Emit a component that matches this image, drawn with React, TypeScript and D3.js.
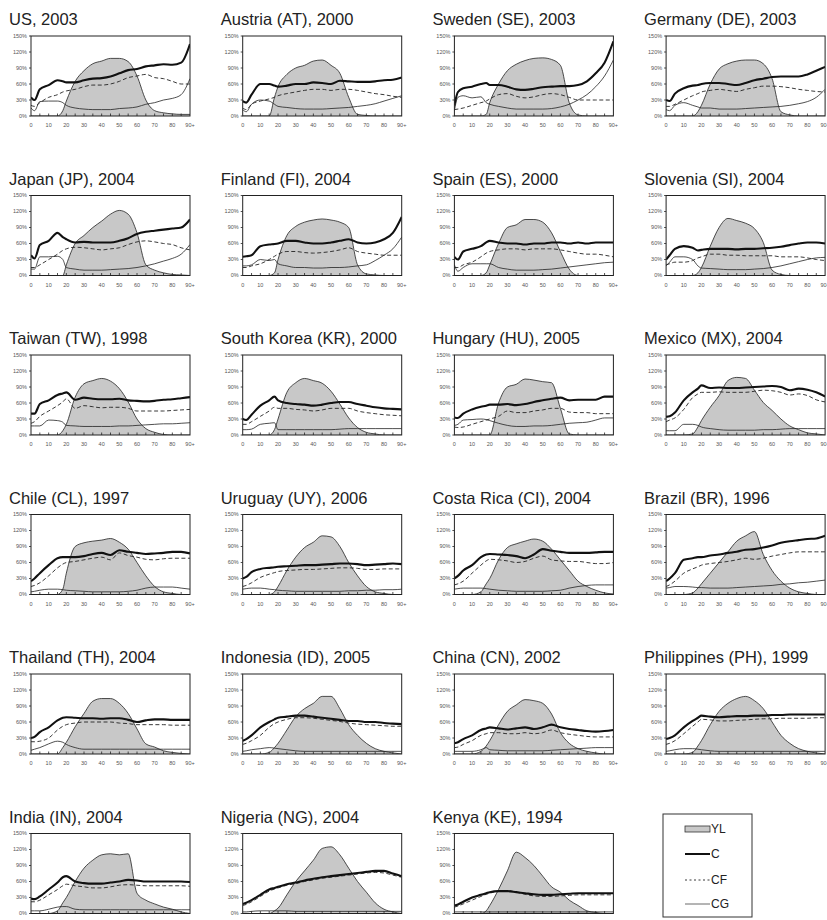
import * as d3 from 'd3'

// ages the values were read at (years)
const ages = [0, 2, 5, 10, 15, 18, 20, 25, 30, 35, 40, 45, 50, 55, 60, 65, 70, 75, 80, 85, 90]

const titles = [
  'US, 2003', 'Austria (AT), 2000', 'Sweden (SE), 2003', 'Germany (DE), 2003',
  'Japan (JP), 2004', 'Finland (FI), 2004', 'Spain (ES), 2000', 'Slovenia (SI), 2004',
  'Taiwan (TW), 1998', 'South Korea (KR), 2000', 'Hungary (HU), 2005', 'Mexico (MX), 2004',
  'Chile (CL), 1997', 'Uruguay (UY), 2006', 'Costa Rica (CI), 2004', 'Brazil (BR), 1996',
  'Thailand (TH), 2004', 'Indonesia (ID), 2005', 'China (CN), 2002', 'Philippines (PH), 1999',
  'India (IN), 2004', 'Nigeria (NG), 2004', 'Kenya (KE), 1994',
]

// YL: labour income, % (one row per country, same order as titles)
const ylSeries = [
  [0, 0, 0, 0, 0, 10, 28, 65, 85, 98, 103, 108, 108, 102, 75, 30, 10, 6, 4, 3, 3],
  [0, 0, 0, 0, 0, 35, 55, 78, 90, 95, 103, 105, 95, 80, 35, 3, 1, 0, 0, 0, 0],
  [0, 0, 0, 0, 0, 3, 25, 60, 85, 97, 104, 108, 109, 106, 95, 25, 2, 0, 0, 0, 0],
  [0, 0, 0, 0, 0, 8, 20, 60, 88, 98, 103, 105, 105, 98, 70, 8, 2, 0, 0, 0, 0],
  [0, 0, 0, 0, 0, 0, 20, 60, 75, 90, 102, 115, 122, 115, 80, 20, 10, 5, 2, 1, 0],
  [0, 0, 0, 0, 0, 5, 30, 75, 92, 100, 104, 106, 104, 100, 90, 20, 3, 1, 0, 0, 0],
  [0, 0, 0, 0, 0, 5, 20, 60, 90, 95, 105, 105, 100, 80, 45, 12, 0, 0, 0, 0, 0],
  [0, 0, 0, 0, 0, 5, 15, 55, 90, 107, 103, 98, 88, 62, 10, 2, 0, 0, 0, 0, 0],
  [0, 0, 0, 0, 0, 8, 20, 71, 96, 102, 106, 101, 87, 62, 30, 12, 5, 1, 0, 0, 0],
  [0, 0, 0, 0, 0, 10, 30, 80, 98, 106, 102, 97, 82, 58, 32, 14, 5, 2, 0, 0, 0],
  [0, 0, 0, 0, 0, 0, 0, 60, 90, 95, 105, 103, 100, 98, 50, 2, 0, 0, 0, 0, 0],
  [0, 0, 0, 0, 2, 15, 27, 52, 74, 102, 108, 106, 84, 61, 46, 30, 17, 10, 4, 2, 0],
  [0, 0, 0, 0, 0, 10, 40, 90, 97, 100, 102, 105, 98, 85, 60, 35, 15, 5, 2, 0, 0],
  [0, 0, 0, 0, 0, 5, 15, 45, 70, 88, 98, 110, 108, 90, 60, 35, 15, 5, 2, 0, 0],
  [0, 0, 0, 0, 5, 20, 30, 65, 88, 95, 100, 104, 100, 85, 65, 45, 25, 15, 8, 3, 1],
  [0, 0, 0, 0, 3, 12, 20, 40, 60, 80, 100, 110, 118, 75, 45, 25, 12, 5, 2, 0, 0],
  [0, 0, 0, 0, 0, 12, 22, 51, 76, 99, 104, 104, 95, 76, 47, 19, 13, 6, 3, 1, 0],
  [0, 0, 0, 0, 3, 12, 20, 45, 70, 85, 95, 108, 108, 85, 55, 35, 20, 10, 5, 2, 0],
  [0, 0, 0, 0, 5, 15, 25, 55, 80, 92, 102, 100, 95, 75, 40, 20, 10, 5, 2, 0, 0],
  [0, 0, 0, 0, 3, 15, 25, 55, 80, 95, 104, 108, 100, 85, 60, 35, 20, 10, 5, 2, 0],
  [0, 0, 0, 0, 5, 20, 30, 60, 85, 100, 110, 112, 110, 112, 38, 25, 18, 12, 8, 3, 0],
  [0, 0, 0, 0, 0, 5, 10, 35, 60, 80, 100, 122, 125, 110, 85, 60, 40, 20, 8, 3, 0],
  [0, 0, 0, 0, 0, 5, 15, 45, 80, 115, 105, 90, 70, 50, 40, 25, 15, 5, 2, 0, 0],
]

// C: total consumption, %
const cSeries = [
  [35, 30, 50, 58, 67, 65, 63, 63, 67, 70, 71, 74, 80, 86, 88, 93, 95, 97, 96, 100, 135],
  [28, 25, 40, 60, 60, 57, 55, 57, 60, 60, 63, 62, 60, 66, 65, 64, 64, 65, 67, 68, 72],
  [20, 45, 52, 55, 60, 62, 58, 58, 55, 50, 49, 51, 54, 55, 56, 56, 58, 65, 80, 100, 140],
  [30, 28, 42, 52, 57, 58, 60, 62, 62, 60, 58, 62, 67, 70, 73, 74, 74, 74, 78, 85, 92],
  [38, 32, 57, 65, 80, 72, 68, 62, 63, 62, 62, 62, 65, 70, 78, 82, 84, 86, 88, 90, 105],
  [35, 36, 38, 55, 58, 59, 60, 65, 65, 62, 60, 60, 62, 65, 68, 62, 60, 62, 68, 80, 110],
  [35, 30, 45, 50, 55, 62, 65, 62, 60, 60, 58, 60, 60, 62, 62, 60, 62, 60, 62, 62, 62],
  [30, 38, 50, 55, 52, 47, 48, 50, 50, 50, 49, 50, 50, 51, 52, 54, 57, 60, 62, 62, 60],
  [40, 40, 58, 65, 75, 78, 80, 66, 70, 68, 67, 67, 68, 65, 64, 63, 64, 66, 67, 69, 71],
  [30, 28, 38, 55, 65, 72, 65, 60, 58, 57, 55, 57, 60, 62, 62, 58, 55, 52, 50, 49, 48],
  [33, 32, 40, 48, 53, 55, 57, 57, 58, 56, 58, 62, 65, 68, 70, 65, 66, 66, 66, 72, 72],
  [34, 35, 42, 65, 80, 87, 93, 88, 89, 88, 88, 89, 90, 91, 92, 90, 84, 87, 85, 80, 72],
  [25, 30, 40, 55, 68, 70, 70, 70, 72, 76, 78, 74, 83, 80, 78, 76, 77, 78, 80, 80, 77],
  [30, 33, 42, 48, 50, 51, 52, 53, 54, 55, 55, 56, 57, 58, 58, 57, 55, 56, 57, 58, 57],
  [30, 35, 45, 55, 70, 75, 76, 75, 74, 72, 68, 75, 85, 82, 80, 78, 78, 78, 79, 80, 80],
  [25, 30, 40, 65, 68, 70, 70, 73, 75, 78, 80, 84, 85, 88, 92, 97, 100, 102, 104, 105, 110],
  [30, 32, 41, 50, 63, 68, 69, 68, 67, 67, 66, 67, 67, 64, 60, 63, 65, 65, 64, 64, 64],
  [25, 28, 35, 50, 60, 65, 68, 70, 72, 72, 70, 68, 66, 64, 62, 62, 60, 60, 58, 57, 56],
  [20, 22, 28, 35, 45, 48, 50, 48, 46, 48, 50, 47, 50, 55, 50, 47, 45, 43, 42, 43, 45],
  [28, 30, 35, 50, 62, 68, 72, 70, 69, 70, 71, 71, 72, 72, 73, 73, 74, 74, 74, 74, 74],
  [28, 27, 32, 45, 58, 68, 70, 60, 57, 56, 56, 58, 60, 63, 62, 60, 60, 60, 60, 60, 59],
  [18, 20, 25, 35, 45, 48, 50, 55, 58, 62, 65, 68, 70, 72, 74, 76, 78, 80, 80, 75, 70],
  [15, 17, 22, 30, 35, 38, 40, 42, 42, 40, 38, 36, 35, 35, 36, 37, 38, 38, 38, 38, 38],
]

// CF: private consumption, %
const cfSeries = [
  [20, 18, 25, 35, 40, 45, 47, 50, 55, 58, 58, 60, 65, 72, 75, 78, 72, 70, 65, 60, 60],
  [15, 12, 22, 28, 32, 35, 38, 42, 45, 48, 50, 50, 48, 50, 50, 48, 45, 42, 40, 37, 35],
  [12, 13, 15, 20, 25, 28, 32, 40, 42, 37, 34, 36, 40, 42, 40, 35, 30, 30, 30, 30, 30],
  [18, 18, 22, 30, 38, 42, 45, 48, 50, 48, 46, 50, 53, 56, 56, 55, 53, 50, 48, 46, 45],
  [15, 15, 20, 30, 40, 47, 50, 53, 52, 50, 48, 50, 52, 58, 63, 65, 63, 60, 58, 52, 48],
  [15, 15, 18, 22, 30, 36, 40, 45, 45, 43, 42, 43, 45, 48, 52, 45, 42, 40, 38, 38, 38],
  [15, 15, 20, 25, 35, 42, 45, 48, 50, 50, 48, 50, 50, 50, 48, 45, 42, 40, 40, 38, 35],
  [20, 22, 25, 25, 28, 33, 35, 40, 40, 38, 38, 37, 37, 37, 37, 35, 35, 35, 33, 30, 28],
  [22, 25, 35, 45, 55, 62, 68, 50, 55, 53, 51, 52, 52, 50, 45, 45, 45, 45, 46, 47, 48],
  [20, 20, 25, 35, 45, 52, 50, 50, 48, 47, 45, 47, 50, 50, 50, 45, 42, 40, 38, 37, 36],
  [15, 14, 15, 20, 25, 28, 30, 35, 45, 42, 42, 45, 47, 50, 50, 43, 42, 42, 40, 40, 40],
  [25, 28, 32, 48, 70, 77, 80, 80, 81, 80, 80, 80, 82, 84, 83, 80, 75, 77, 74, 66, 62],
  [15, 17, 22, 35, 50, 57, 60, 62, 65, 68, 70, 65, 78, 73, 70, 66, 65, 67, 68, 68, 68],
  [15, 17, 22, 32, 38, 41, 43, 45, 46, 47, 47, 48, 49, 50, 50, 49, 47, 47, 48, 48, 48],
  [18, 20, 25, 40, 55, 63, 66, 65, 63, 60, 62, 68, 72, 65, 63, 62, 62, 60, 58, 58, 60],
  [15, 18, 25, 40, 48, 52, 55, 58, 60, 62, 65, 68, 66, 68, 72, 75, 78, 80, 80, 80, 80],
  [23, 23, 24, 30, 45, 52, 55, 58, 60, 60, 60, 60, 58, 57, 55, 55, 55, 55, 54, 54, 54],
  [18, 20, 25, 35, 50, 57, 60, 65, 68, 68, 67, 65, 63, 61, 58, 56, 55, 54, 53, 52, 52],
  [12, 13, 18, 25, 35, 38, 40, 40, 38, 38, 40, 38, 40, 45, 40, 37, 35, 33, 32, 32, 32],
  [18, 20, 25, 38, 52, 60, 65, 64, 62, 62, 63, 64, 65, 66, 66, 67, 67, 67, 67, 68, 68],
  [22, 22, 25, 35, 45, 52, 55, 52, 50, 48, 48, 50, 53, 54, 53, 52, 52, 52, 52, 52, 51],
  [15, 17, 22, 32, 42, 46, 48, 53, 56, 60, 63, 66, 68, 70, 72, 74, 76, 77, 76, 72, 68],
  [12, 14, 18, 25, 32, 36, 38, 42, 43, 40, 36, 33, 32, 32, 33, 34, 35, 35, 35, 35, 35],
]

// CG: public consumption, %
const cgSeries = [
  [15, 10, 27, 28, 28, 25, 20, 15, 13, 12, 12, 12, 14, 15, 17, 22, 25, 30, 33, 40, 70],
  [12, 8, 22, 30, 28, 22, 18, 16, 14, 13, 13, 13, 14, 15, 16, 18, 20, 23, 28, 33, 38],
  [10, 35, 38, 34, 36, 25, 22, 18, 15, 13, 13, 13, 13, 14, 17, 22, 30, 40, 55, 75, 105],
  [12, 10, 20, 25, 20, 17, 15, 15, 13, 13, 13, 14, 15, 16, 17, 18, 20, 23, 27, 35, 50],
  [12, 12, 35, 35, 36, 30, 15, 12, 10, 10, 10, 11, 12, 13, 15, 18, 22, 27, 32, 40, 58],
  [18, 18, 20, 30, 28, 30, 22, 18, 15, 15, 14, 14, 15, 15, 16, 18, 20, 28, 38, 50, 72],
  [20, 8, 15, 22, 22, 22, 22, 15, 12, 10, 10, 10, 11, 12, 14, 16, 18, 20, 22, 24, 25],
  [18, 25, 35, 35, 30, 18, 14, 13, 12, 11, 11, 11, 12, 13, 15, 18, 22, 26, 30, 33, 34],
  [17, 17, 17, 28, 27, 24, 18, 17, 16, 16, 16, 16, 17, 17, 18, 19, 20, 21, 21, 22, 23],
  [10, 10, 11, 20, 22, 23, 10, 10, 10, 10, 10, 10, 10, 11, 12, 12, 12, 12, 12, 12, 12],
  [18, 20, 28, 29, 30, 29, 27, 22, 18, 16, 16, 17, 17, 18, 20, 22, 23, 24, 28, 32, 32],
  [8, 8, 8, 20, 20, 18, 15, 12, 10, 9, 9, 9, 9, 10, 10, 11, 12, 12, 12, 12, 12],
  [5, 6, 8, 10, 10, 9, 8, 7, 6, 5, 5, 5, 5, 6, 8, 12, 14, 14, 14, 12, 10],
  [10, 11, 12, 12, 10, 9, 8, 7, 6, 6, 6, 6, 6, 6, 7, 7, 8, 8, 9, 9, 10],
  [10, 11, 12, 12, 12, 11, 10, 8, 7, 6, 6, 6, 6, 7, 8, 12, 15, 17, 18, 18, 18],
  [12, 13, 15, 15, 14, 13, 13, 12, 12, 12, 13, 14, 15, 16, 17, 19, 20, 22, 23, 25, 27],
  [7, 9, 12, 19, 24, 22, 18, 12, 9, 9, 9, 9, 9, 9, 9, 9, 9, 9, 9, 9, 9],
  [5, 6, 8, 10, 12, 11, 10, 8, 6, 5, 5, 5, 5, 5, 5, 5, 5, 5, 5, 5, 5],
  [5, 5, 5, 5, 8, 12, 8, 7, 6, 6, 6, 6, 6, 7, 8, 9, 10, 11, 12, 12, 12],
  [5, 6, 8, 10, 10, 9, 8, 6, 5, 5, 5, 5, 5, 5, 5, 5, 5, 5, 5, 5, 5],
  [5, 5, 5, 8, 12, 13, 13, 8, 7, 7, 7, 7, 7, 7, 7, 7, 7, 7, 7, 7, 7],
  [3, 3, 4, 5, 5, 5, 5, 5, 4, 4, 4, 4, 4, 4, 4, 4, 4, 4, 4, 4, 4],
  [3, 3, 3, 3, 3, 3, 3, 3, 3, 3, 3, 3, 3, 3, 3, 3, 3, 3, 3, 3, 3],
]

const yTickValues = [0, 30, 60, 90, 120, 150]
const xTickValues = [0, 10, 20, 30, 40, 50, 60, 70, 80, 90]
const xTickLabels = ['0', '10', '20', '30', '40', '50', '60', '70', '80', '90+']
const minorTicks = d3.range(5, 90, 5)
const legendKeys = ['YL', 'C', 'CF', 'CG']

const font = '"Liberation Sans", Arial, sans-serif'
const boxW = 159
const boxH = 80
const colStep = 211.7
const rowStep = 159.5
const boxLeft = 31
const boxTop = 36

const xScale = d3.scaleLinear().domain([0, 90]).range([0, boxW])
const yScale = d3.scaleLinear().domain([0, 150]).range([boxH, 0])

const line = d3
  .line<number>()
  .x((_, k) => xScale(ages[k]))
  .y((d) => yScale(d))
  .curve(d3.curveMonotoneX)

const area = d3
  .area<number>()
  .x((_, k) => xScale(ages[k]))
  .y0(boxH)
  .y1((d) => yScale(d))
  .curve(d3.curveMonotoneX)

function Panel({ i }: { i: number }) {
  const col = i % 4
  const row = Math.floor(i / 4)
  const tx = boxLeft + col * colStep
  const ty = boxTop + row * rowStep
  return (
    <g transform={`translate(${tx},${ty})`}>
      <text x={-22} y={-11} fontSize={16.5} fill="#222">
        {titles[i]}
      </text>
      <defs>
        <clipPath id={`clip${i}`}>
          <rect width={boxW} height={boxH} />
        </clipPath>
      </defs>
      <g clipPath={`url(#clip${i})`}>
        <path d={area(ylSeries[i])!} fill="#c8c8c8" stroke="none" />
        <path d={line(ylSeries[i])!} fill="none" stroke="#222" strokeWidth={0.8} />
        <path d={line(cgSeries[i])!} fill="none" stroke="#222" strokeWidth={0.8} />
        <path d={line(cfSeries[i])!} fill="none" stroke="#222" strokeWidth={0.9} strokeDasharray="4,2.5" />
        <path d={line(cSeries[i])!} fill="none" stroke="#111" strokeWidth={2.1} />
      </g>
      <rect width={boxW} height={boxH} fill="none" stroke="#222" strokeWidth={1} />
      {minorTicks.map((a) => (
        <line key={a} x1={xScale(a)} x2={xScale(a)} y1={boxH} y2={boxH - 2.5} stroke="#222" strokeWidth={0.8} />
      ))}
      <g fontSize={5.5} fill="#555" textAnchor="end">
        {yTickValues.map((v) => (
          <g key={v} transform={`translate(0,${yScale(v)})`}>
            <line x2={-2} stroke="#222" strokeWidth={0.8} />
            <text x={-4} dy="0.35em">
              {v}%
            </text>
          </g>
        ))}
      </g>
      <g fontSize={5.5} fill="#555" textAnchor="middle">
        {xTickValues.map((v, k) => (
          <text key={v} x={xScale(v)} y={boxH + 11}>
            {xTickLabels[k]}
          </text>
        ))}
      </g>
    </g>
  )
}

function Legend() {
  const lx = 663
  const ly = 814
  const rows = [15, 40, 66, 90]
  return (
    <g transform={`translate(${lx},${ly})`}>
      <rect width={89} height={103} fill="#fff" stroke="#333" strokeWidth={1} />
      <rect x={22} y={12} width={25} height={6} fill="#c8c8c8" stroke="#333" strokeWidth={0.8} />
      <line x1={22} x2={47} y1={rows[1]} y2={rows[1]} stroke="#111" strokeWidth={2} />
      <line x1={22} x2={47} y1={rows[2]} y2={rows[2]} stroke="#222" strokeWidth={0.9} strokeDasharray="2,2.5" />
      <line x1={22} x2={47} y1={rows[3]} y2={rows[3]} stroke="#444" strokeWidth={0.8} />
      {legendKeys.map((k, j) => (
        <text key={k} x={48} y={rows[j] + 4.2} fontSize={12} fill="#222">
          {k}
        </text>
      ))}
    </g>
  )
}

export default function App() {
  return (
    <svg
      width={827}
      height={920}
      style={{ position: 'absolute', left: 0, top: 0, background: '#fff' }}
      fontFamily={font}
    >
      <rect width={827} height={920} fill="#fff" />
      {titles.map((_, i) => (
        <Panel key={i} i={i} />
      ))}
      <Legend />
    </svg>
  )
}
